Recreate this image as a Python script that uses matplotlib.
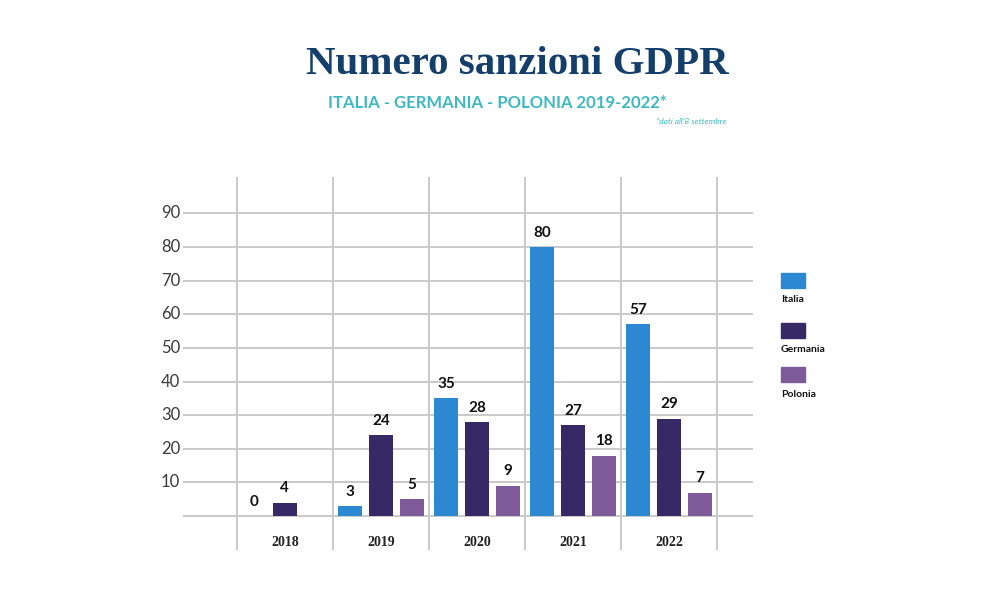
import matplotlib
matplotlib.use("Agg")
import matplotlib.pyplot as plt
from matplotlib.patches import Rectangle
import numpy as np

years = ["2018", "2019", "2020", "2021", "2022"]
series_names = ["Italia", "Germania", "Polonia"]
italia = [0, 3, 35, 80, 57]
germania = [4, 24, 28, 27, 29]
polonia = [None, 5, 9, 18, 7]
y_ticks = [10, 20, 30, 40, 50, 60, 70, 80, 90]

colors = ["#2C88D0", "#352A66", "#7E5A9B"]
grid_col = "#c9c9c9"

fig = plt.figure(figsize=(10, 6), dpi=100)
fig.patch.set_facecolor("white")
ax = fig.add_axes([0.183, 0.0833, 0.57, 0.622])
ax.set_xlim(-1.06, 4.875)
ax.set_ylim(-10.1, 100.9)
ax.axis("off")

x = np.arange(len(years))
for t in [0] + y_ticks:
    ax.axhline(t, color=grid_col, lw=1.4, zorder=0)
    if t:
        ax.text(-1.09, t, str(t), ha="right", va="center", fontsize=12,
                color="#3a3a3a", family="Lato")
for v in np.arange(-0.5, len(years), 1.0):
    ax.axvline(v, color=grid_col, lw=1.4, zorder=0)

offs = [-0.32, 0.0, 0.32]
w = 0.25
for s, (vals, c, o) in enumerate(zip([italia, germania, polonia], colors, offs)):
    for i, v in enumerate(vals):
        if v is None:
            continue
        ax.bar(x[i] + o, v, width=w, color=c, zorder=2)
        ax.text(x[i] + o, v + 2.2, str(v), ha="center", va="bottom",
                fontsize=11, fontweight="bold", color="#111111", family="Lato")

for i, yr in enumerate(years):
    ax.text(x[i], -7.9, yr, ha="center", va="center", fontsize=10,
            fontweight="bold", color="#222222", family="Liberation Serif")

# Titles
fig.text(0.517, 0.893, "Numero sanzioni GDPR", ha="center", va="center",
         fontsize=29.5, fontweight="bold", color="#143F6B", family="Liberation Serif")
t2 = fig.text(0.497, 0.828, "ITALIA - GERMANIA - POLONIA 2019-2022*", ha="center", va="center",
              fontsize=12, fontweight="bold", color="#3DB8C2", family="Lato")
fig.text(0.727, 0.798, "*dati all'8 settembre", ha="right", va="center",
         fontsize=6, style="italic", color="#3DB8C2", family="Lato")

# Legend
leg_y = [0.52, 0.437, 0.363]
for name, c, yy in zip(series_names, colors, leg_y):
    fig.patches.append(Rectangle((0.781, yy), 0.024, 0.025, transform=fig.transFigure,
                                 color=c, figure=fig))
    fig.text(0.781, yy - 0.02, name, ha="left", va="center", fontsize=7.5,
             fontweight="bold", color="#111111", family="Lato")

fig.savefig("out.png", dpi=100, facecolor="white")
